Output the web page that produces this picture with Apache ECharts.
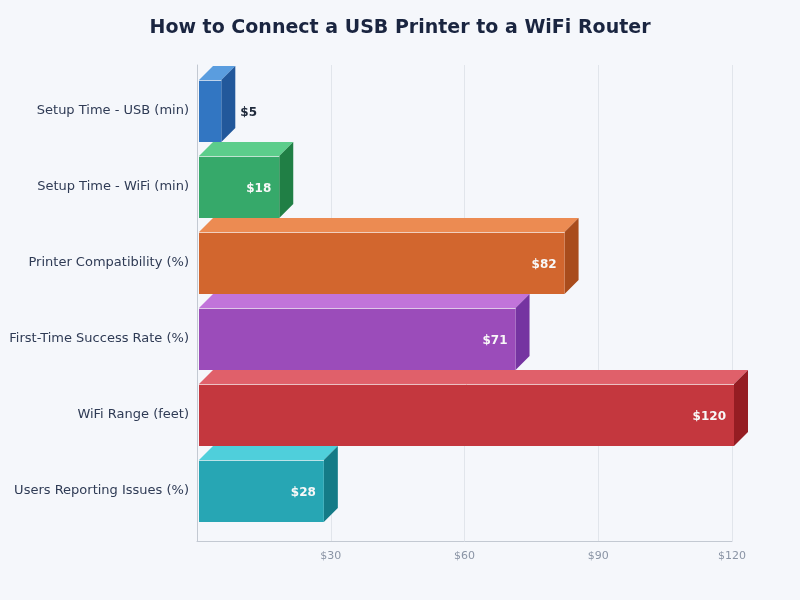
<!DOCTYPE html>
<html>
<head>
<meta charset="utf-8">
<script src="https://cdn.jsdelivr.net/npm/echarts@6/dist/echarts.min.js"></script>
<style>
html,body{margin:0;padding:0;background:#f5f7fb;}
#chart{width:800px;height:600px;}
</style>
</head>
<body>
<div id="chart"></div>
<script>
const titleText = 'How to Connect a USB Printer to a WiFi Router';
const categories = ['Setup Time - USB (min)', 'Setup Time - WiFi (min)', 'Printer Compatibility (%)', 'First-Time Success Rate (%)', 'WiFi Range (feet)', 'Users Reporting Issues (%)'];
const values = [5, 18, 82, 71, 120, 28];
const frontColors = ['#3276c2', '#36a96a', '#d2662e', '#9b4cba', '#c4373e', '#27a6b4'];
const topColors = ['#5a9ddf', '#5ccd8b', '#ec8b52', '#c174da', '#e0606a', '#4fcfdb'];
const sideColors = ['#22589b', '#207f45', '#a94c1c', '#7534a1', '#951d23', '#147b87'];
const xTicks = [0, 30, 60, 90, 120];

const chart = echarts.init(document.getElementById('chart'), null, {renderer: 'canvas'});
const FONT = 'DejaVu Sans';
const DEPTH = 14;

const option = {
  backgroundColor: '#f5f7fb',
  animation: false,
  title: {
    text: titleText,
    left: 'center',
    top: 14,
    textStyle: {fontFamily: FONT, fontSize: 19, fontWeight: 'bold', color: '#1a2540'}
  },
  grid: [
    {left: 197, right: 68, top: 65, bottom: 59},
    {left: 197, right: 68, top: 73, bottom: 71}
  ],
  xAxis: [
    {
      gridIndex: 0, type: 'value', min: xTicks[0], max: xTicks[xTicks.length - 1], interval: xTicks[1] - xTicks[0],
      axisLine: {show: true, lineStyle: {color: '#c3c9d2', width: 1}},
      axisTick: {show: false},
      splitLine: {show: true, lineStyle: {color: '#e1e5eb', width: 1}},
      axisLabel: {
        margin: 10, color: '#8a94a5', fontFamily: FONT, fontSize: 11,
        formatter: v => v === 0 ? '' : '$' + v
      }
    },
    {gridIndex: 1, type: 'value', min: xTicks[0], max: xTicks[xTicks.length - 1], show: false}
  ],
  yAxis: [
    {
      gridIndex: 0, type: 'value', min: 0, max: 1,
      axisLine: {show: true, lineStyle: {color: '#c3c9d2', width: 1}},
      axisTick: {show: false}, axisLabel: {show: false}, splitLine: {show: false}
    },
    {
      gridIndex: 1, type: 'category', data: categories, inverse: true,
      axisLine: {show: false}, axisTick: {show: false}, splitLine: {show: false},
      axisLabel: {margin: 8, color: '#2f3b55', fontFamily: FONT, fontSize: 13, lineHeight: 15, padding: [2, 0, 0, 0]}
    }
  ],
  series: [{
    type: 'custom',
    xAxisIndex: 1, yAxisIndex: 1,
    encode: {x: 0, y: 1},
    data: values.map((v, i) => [v, i]),
    renderItem: function (params, api) {
      const v = api.value(0);
      const idx = api.value(1);
      const p0 = api.coord([0, idx]);
      const p1 = api.coord([v, idx]);
      const band = api.size([0, 1])[1];
      const h = band * 0.816;
      const x0 = p0[0] + 2, x1 = p1[0] + 2;
      const y0 = p0[1] - h / 2, y1 = p0[1] + h / 2;
      const d = DEPTH;
      const i = params.dataIndex;
      const children = [
        {type: 'polygon', shape: {points: [[x0, y0], [x0 + d, y0 - d], [x1 + d, y0 - d], [x1, y0]]}, style: {fill: topColors[i]}},
        {type: 'polygon', shape: {points: [[x1, y0], [x1 + d, y0 - d], [x1 + d, y1 - d], [x1, y1]]}, style: {fill: sideColors[i]}},
        {type: 'rect', shape: {x: x0, y: y0, width: x1 - x0, height: h}, style: {fill: frontColors[i]}},
        {type: 'line', shape: {x1: x0, y1: y0 + 0.5, x2: x1, y2: y0 + 0.5}, style: {stroke: 'rgba(255,255,255,0.7)', lineWidth: 1}}
      ];
      const inside = (x1 - x0) > 50;
      children.push({
        type: 'text',
        style: {
          text: '$' + v,
          x: inside ? x1 - 8 : x1 + d + 5,
          y: p0[1] + 2,
          align: inside ? 'right' : 'left',
          verticalAlign: 'middle',
          fill: inside ? '#f8f8f8' : '#1e293b',
          font: 'bold 12px "DejaVu Sans"'
        }
      });
      return {type: 'group', children: children};
    }
  }]
};
chart.setOption(option);
</script>
</body>
</html>
